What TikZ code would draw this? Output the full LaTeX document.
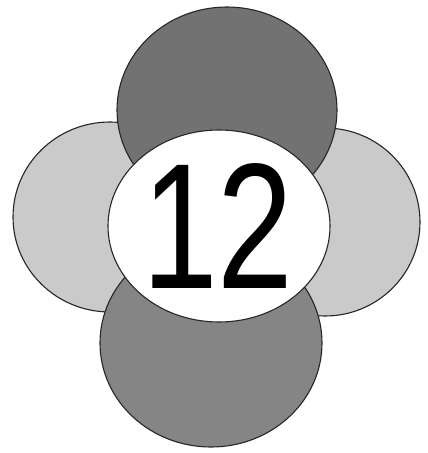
\documentclass[tikz,border=0pt]{standalone}
\usepackage{fontspec}
\setmainfont{Liberation Sans}
\definecolor{topgray}{HTML}{727272}
\definecolor{botgray}{HTML}{858585}
\definecolor{sidegray}{HTML}{CACACA}
\tikzset{
  petal/.style={draw=black!85, line width=1.1pt},
}
\begin{document}
\begin{tikzpicture}[x=1pt,y=-1pt]
\useasboundingbox (0,0) rectangle (428,453);
\fill[white] (0,0) rectangle (428,453);
\path[petal, fill=sidegray] (110,217) ellipse [x radius=97, y radius=95];
\path[petal, fill=sidegray] (325,222) ellipse [x radius=95, y radius=94];
\path[petal, fill=topgray] (227,110) ellipse [x radius=110, y radius=103];
\path[petal, fill=botgray] (211,343) ellipse [x radius=111, y radius=104];
\path[petal, fill=white] (219,226) ellipse [x radius=111, y radius=96];
\node[anchor=base, inner sep=0pt, xscale=0.76, font=\fontsize{179}{179}\selectfont] (num) at (218,288) {12};
\end{tikzpicture}
\end{document}
